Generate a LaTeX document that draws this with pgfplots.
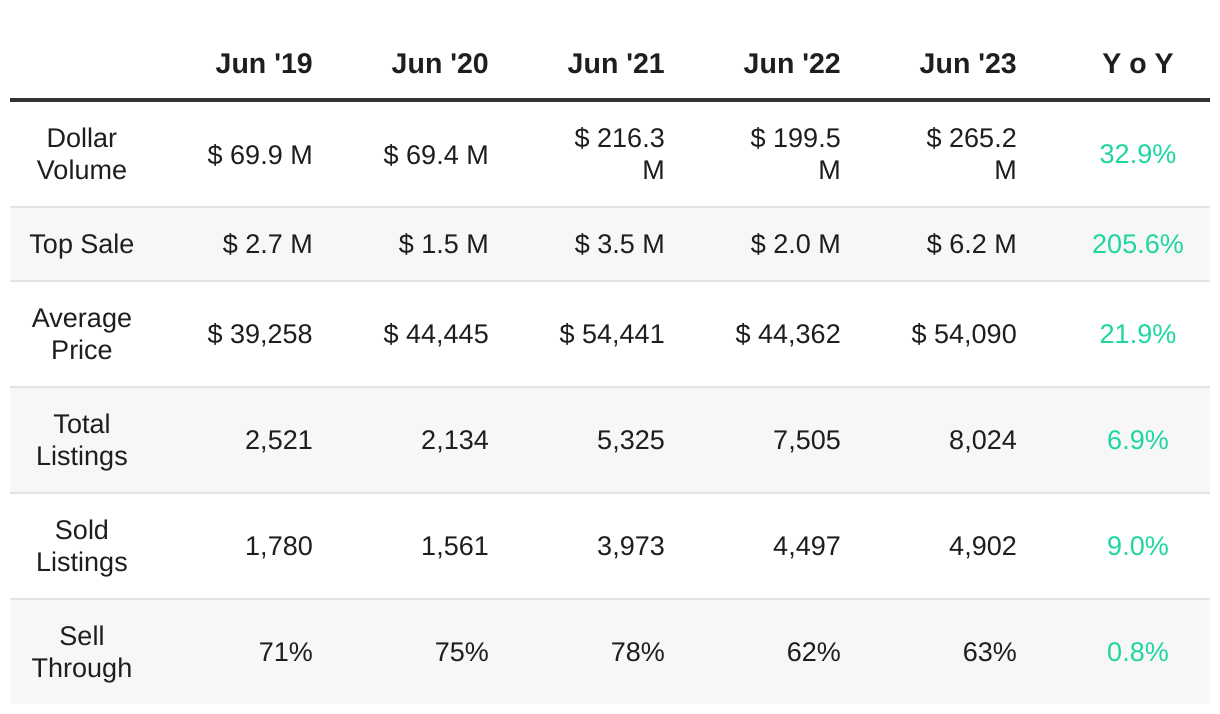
\documentclass[border=0pt]{standalone}
\usepackage{pgfplots}
\pgfplotsset{compat=1.18}
\usepackage{fontspec}
\setmainfont{Liberation Sans}
\definecolor{txt}{HTML}{1E1E1E}
\definecolor{grn}{HTML}{1ED6A0}
\definecolor{rowg}{HTML}{F7F7F7}
\definecolor{sepc}{HTML}{E4E4E4}
\definecolor{hline}{HTML}{333333}
\newcommand{\q}{\textquotesingle}
\begin{document}
\begin{tikzpicture}
\begin{axis}[
  scale only axis, width=1220pt, height=714pt,
  xmin=0, xmax=1220, ymin=0, ymax=714, y dir=reverse,
  axis lines=none, clip=false,
  cell/.style={draw=none, mark=none, point meta=explicit symbolic, nodes near coords,
     every node near coord/.append style={inner sep=0pt, text=txt, text depth=0pt,
       font=\fontsize{27}{32}\selectfont}},
  valcol/.style={cell, every node near coord/.append style={anchor=east, align=right}},
  labcol/.style={cell, every node near coord/.append style={anchor=center, align=center}},
  yoycol/.style={cell, every node near coord/.append style={anchor=center, align=center, text=grn}},
  headcol/.style={cell, every node near coord/.append style={anchor=east, font=\fontsize{28.5}{34}\selectfont\bfseries}},
  headc/.style={cell, every node near coord/.append style={anchor=center, font=\fontsize{28.5}{34}\selectfont\bfseries}},
]
% background
\addplot[fill=white, draw=none] coordinates {(0,0)(1220,0)(1220,714)(0,714)} -- cycle;
% shaded rows
\addplot[fill=rowg, draw=none] coordinates {(10,207)(1210,207)(1210,281)(10,281)} -- cycle;
\addplot[fill=rowg, draw=none] coordinates {(10,387)(1210,387)(1210,493)(10,493)} -- cycle;
\addplot[fill=rowg, draw=none] coordinates {(10,599)(1210,599)(1210,704)(10,704)} -- cycle;
% separators
\addplot[sepc, line width=2pt] coordinates {(10,207)(1210,207)};
\addplot[sepc, line width=2pt] coordinates {(10,281)(1210,281)};
\addplot[sepc, line width=2pt] coordinates {(10,387)(1210,387)};
\addplot[sepc, line width=2pt] coordinates {(10,493)(1210,493)};
\addplot[sepc, line width=2pt] coordinates {(10,599)(1210,599)};
% header rule
\addplot[hline, line width=3.4pt] coordinates {(10,100)(1210,100)};
% header
\addplot[headcol] coordinates {(313,63.5)[{Jun \q19}] (489,63.5)[{Jun \q20}] (665,63.5)[{Jun \q21}] (841,63.5)[{Jun \q22}] (1017,63.5)[{Jun \q23}]};
\addplot[headc] coordinates {(1138,63.5)[Y o Y]};
% row labels
\addplot[labcol] coordinates {
  (82,153.5)[{Dollar\\Volume}]
  (82,244)[{Top Sale}]
  (82,334)[{Average\\Price}]
  (82,440)[{Total\\Listings}]
  (82,546)[{Sold\\Listings}]
  (82,652)[{Sell\\Through}]};
% Jun '19
\addplot[valcol] coordinates {
  (313,154.5)[{\$ 69.9 M}]
  (313,244)[{\$ 2.7 M}]
  (313,334)[{\$ 39,258}]
  (313,440)[{2,521}]
  (313,546)[{1,780}]
  (313,652)[{71\%}]};
% Jun '20
\addplot[valcol] coordinates {
  (489,154.5)[{\$ 69.4 M}]
  (489,244)[{\$ 1.5 M}]
  (489,334)[{\$ 44,445}]
  (489,440)[{2,134}]
  (489,546)[{1,561}]
  (489,652)[{75\%}]};
% Jun '21
\addplot[valcol] coordinates {
  (665,153.5)[{\$ 216.3\\M}]
  (665,244)[{\$ 3.5 M}]
  (665,334)[{\$ 54,441}]
  (665,440)[{5,325}]
  (665,546)[{3,973}]
  (665,652)[{78\%}]};
% Jun '22
\addplot[valcol] coordinates {
  (841,153.5)[{\$ 199.5\\M}]
  (841,244)[{\$ 2.0 M}]
  (841,334)[{\$ 44,362}]
  (841,440)[{7,505}]
  (841,546)[{4,497}]
  (841,652)[{62\%}]};
% Jun '23
\addplot[valcol] coordinates {
  (1017,153.5)[{\$ 265.2\\M}]
  (1017,244)[{\$ 6.2 M}]
  (1017,334)[{\$ 54,090}]
  (1017,440)[{8,024}]
  (1017,546)[{4,902}]
  (1017,652)[{63\%}]};
% YoY
\addplot[yoycol] coordinates {
  (1138,154.5)[{32.9\%}]
  (1138,244)[{205.6\%}]
  (1138,334)[{21.9\%}]
  (1138,440)[{6.9\%}]
  (1138,546)[{9.0\%}]
  (1138,652)[{0.8\%}]};
\end{axis}
\end{tikzpicture}
\end{document}
